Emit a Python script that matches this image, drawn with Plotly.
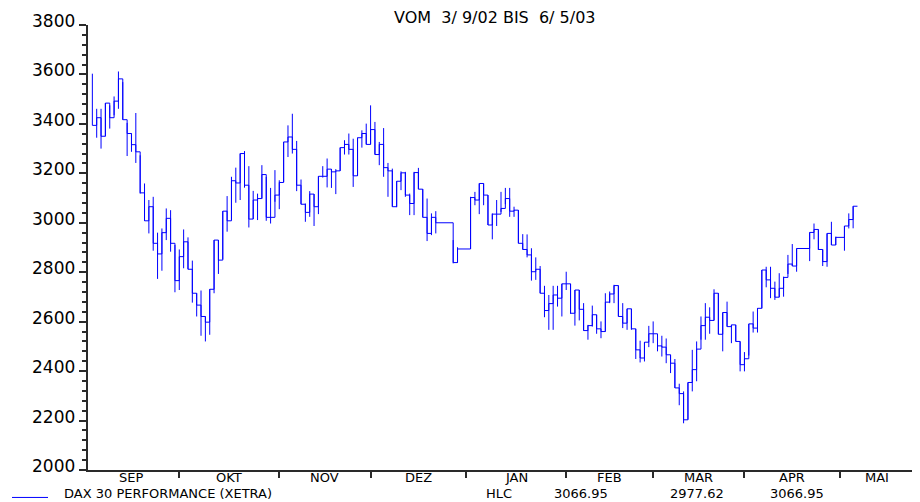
import numpy as np
import pandas as pd
import plotly.graph_objects as go

# ---------------- data (DAX 30 daily High / Low / Close, 3 Sep 2002 - 6 May 2003) ----------------
start_day = "2002-09-03"
end_day = "2003-05-06"
holidays = ["2002-12-24", "2002-12-25", "2002-12-26", "2002-12-31", "2003-01-01",
            "2003-04-18", "2003-04-21", "2003-05-01"]

highs = [3603, 3461, 3461, 3484, 3475, 3511, 3612, 3569, 3404, 3361,
         3444, 3273, 3159, 3092, 3105, 2960, 2977, 3058, 3051, 2910,
         2892, 2973, 2941, 2847, 2715, 2726, 2621, 2731, 2930, 2930,
         3047, 3108, 3186, 3223, 3280, 3290, 3229, 3129, 3118, 3233,
         3186, 3141, 3213, 3172, 3327, 3394, 3441, 3331, 3175, 3078,
         3128, 3116, 3188, 3229, 3260, 3217, 3217, 3304, 3334, 3361,
         3340, 3344, 3374, 3401, 3475, 3408, 3327, 3383, 3242, 3219,
         3168, 3208, 3206, 3118, 3206, 3222, 3136, 3098, 3038, 3047,
         2930, 2901,
         3105, 3125, 3159, 3159, 3112, 3038, 3092, 3125, 3141, 3141,
         3065, 3051, 2954, 2953, 2897, 2860, 2825, 2745, 2708, 2745,
         2745, 2753, 2802, 2753, 2728, 2728, 2675, 2587, 2665, 2628,
         2601, 2715, 2722, 2749, 2746, 2675, 2652, 2652, 2571, 2523,
         2517, 2583, 2601, 2543, 2543, 2532, 2466, 2449, 2349, 2318,
         2354, 2486, 2520, 2621, 2675, 2658, 2731, 2715, 2637, 2681,
         2587, 2587, 2520, 2477, 2591, 2641, 2654, 2809, 2822, 2822,
         2762, 2796, 2782, 2870, 2914, 2896,
         2961, 2997, 2973, 2892, 2957, 3004, 2944,
         2987, 3038, 3066.95]

lows = [3394, 3344, 3300, 3350, 3381, 3435, 3461, 3417, 3270, 3287,
        3242, 3118, 3008, 2957, 2887, 2773, 2806, 2930, 2883, 2719,
        2728, 2816, 2812, 2677, 2621, 2543, 2520, 2547, 2715, 2793,
        2852, 2964, 3011, 3081, 3092, 3142, 2981, 3015, 3011, 3098,
        3008, 2997, 3085, 3055, 3165, 3266, 3280, 3128, 3075, 3004,
        3024, 2987, 3035, 3183, 3143, 3141, 3116, 3210, 3276, 3276,
        3145, 3190, 3304, 3317, 3317, 3276, 3233, 3186, 3105, 3065,
        3063, 3132, 3105, 3031, 3031, 3136, 3022, 2926, 2950, 2957,
        2836, 2839,
        2894, 3071, 3035, 3071, 2991, 2933, 2987, 3044, 3075, 3024,
        3024, 2917, 2892, 2860, 2766, 2769, 2715, 2618, 2567, 2567,
        2661, 2621, 2728, 2632, 2584, 2605, 2564, 2527, 2580, 2551,
        2533, 2560, 2675, 2675, 2621, 2574, 2567, 2567, 2449, 2435,
        2439, 2497, 2513, 2480, 2459, 2432, 2392, 2332, 2262, 2189,
        2204, 2318, 2359, 2527, 2527, 2551, 2605, 2549, 2480, 2580,
        2513, 2520, 2399, 2399, 2463, 2556, 2556, 2654, 2739, 2695,
        2688, 2699, 2701, 2793, 2825, 2802,
        2845, 2933, 2890, 2825, 2822, 2910, 2910,
        2887, 2977, 2977.62]

closes = [3394, 3425, 3350, 3484, 3425, 3492, 3582, 3417, 3361, 3316,
          3287, 3121, 3008, 3065, 2917, 2874, 2960, 3018, 2917, 2766,
          2863, 2923, 2812, 2715, 2667, 2621, 2598, 2731, 2930, 2849,
          3047, 3008, 3170, 3161, 3280, 3152, 3015, 3092, 3098, 3195,
          3022, 3022, 3112, 3163, 3327, 3347, 3297, 3152, 3075, 3042,
          3116, 3065, 3188, 3188, 3217, 3206, 3210, 3304, 3317, 3297,
          3190, 3344, 3361, 3317, 3377, 3276, 3317, 3223, 3210, 3065,
          3168, 3202, 3112, 3078, 3203, 3136, 3022, 2957, 3022, 3000,
          2839, 2894,
          3102, 3092, 3159, 3112, 2991, 3035, 3035, 3058, 3098, 3047,
          3051, 2917, 2892, 2870, 2802, 2812, 2715, 2645, 2673, 2708,
          2695, 2753, 2753, 2634, 2728, 2650, 2564, 2584, 2628, 2571,
          2560, 2679, 2712, 2746, 2621, 2594, 2652, 2571, 2486, 2453,
          2517, 2551, 2551, 2502, 2497, 2466, 2432, 2332, 2309, 2203,
          2354, 2406, 2489, 2584, 2618, 2605, 2715, 2549, 2637, 2580,
          2587, 2520, 2426, 2450, 2591, 2574, 2654, 2809, 2769, 2735,
          2699, 2735, 2779, 2833, 2825, 2896,
          2961, 2973, 2892, 2843, 2957, 2910, 2941,
          2987, 3013, 3066.95]

y_ticks = [2000, 2200, 2400, 2600, 2800, 3000, 3200, 3400, 3600, 3800]
month_names = ["SEP", "OKT", "NOV", "DEZ", "JAN", "FEB", "MAR", "APR", "MAI"]
month_starts = ["2002-09-01", "2002-10-01", "2002-11-01", "2002-12-01", "2003-01-01",
                "2003-02-01", "2003-03-01", "2003-04-01", "2003-05-01"]
axis_origin = "2002-09-02"
axis_end = "2003-05-26"

title_text = "VOM  3/ 9/02 BIS  6/ 5/03"
legend_name = "DAX 30 PERFORMANCE (XETRA)"
legend_kind = "HLC"
legend_values = ["3066.95", "2977.62", "3066.95"]

# ---------------- build positions (weekday index scale) ----------------
hol = pd.to_datetime(holidays)
dates = [d for d in pd.bdate_range(start_day, end_day) if d not in hol]
assert len(dates) == len(highs) == len(lows) == len(closes)


def wd(d):
    return int(np.busday_count(np.datetime64(axis_origin), np.datetime64(pd.Timestamp(d).date())))


xs = [wd(d) for d in dates]
x_end = wd(axis_end)
bounds = [wd(m) for m in month_starts]
mids = [(a + b) / 2 for a, b in zip(bounds, bounds[1:] + [x_end])]

# HL bars
bx, by = [], []
for x, h, l in zip(xs, highs, lows):
    bx += [x, x, None]
    by += [l, h, None]
# close step line
sx = xs + [xs[-1] + 1]
sy = closes + [closes[-1]]

BLUE = "#0000ff"
FONT = "DejaVu Sans, Liberation Sans, Arial, sans-serif"
AX = "#2a2a2a"

fig = go.Figure()
fig.add_trace(go.Scatter(x=bx, y=by, mode="lines", line=dict(color=BLUE, width=1),
                         hoverinfo="skip", showlegend=False))
fig.add_trace(go.Scatter(x=sx, y=sy, mode="lines", line=dict(color=BLUE, width=1, shape="hv"),
                         hoverinfo="skip", showlegend=False))

# page geometry (the page body has the browser's default 8px margin)
OFF = 8
PAGE_W, PAGE_H = 920, 502
W, H = PAGE_W - OFF, PAGE_H - OFF
plot_left, plot_right, plot_top, plot_bottom = 88, 914, 24.5, 470.5
L = plot_left - OFF
T = plot_top - OFF
R = (OFF + W) - plot_right
B = (OFF + H) - plot_bottom
pw, ph = plot_right - plot_left, plot_bottom - plot_top


def px(xp):
    return (xp - plot_left) / pw


def py(yp):
    return (plot_bottom - yp) / ph


fig.update_layout(
    width=W, height=H,
    margin=dict(l=L, r=R, t=T, b=B, autoexpand=False),
    paper_bgcolor="white", plot_bgcolor="white",
    showlegend=False,
    font=dict(family=FONT, size=15, color="black"),
    xaxis=dict(range=[0, x_end], showgrid=False, zeroline=False,
               showline=True, linecolor=AX, linewidth=2,
               tickmode="array", tickvals=bounds, ticks="outside", ticklen=6,
               tickwidth=1.5, tickcolor=AX, showticklabels=False),
    yaxis=dict(range=[2000, 3800], showgrid=False, zeroline=False,
               showline=True, linecolor=AX, linewidth=2,
               tickmode="array", tickvals=y_ticks, ticks="outside", ticklen=7,
               tickwidth=1.5, tickcolor=AX, showticklabels=False,
               minor=dict(dtick=40, ticks="outside", ticklen=4, tickwidth=1.5, tickcolor=AX)),
)

# y tick labels (sit slightly above their tick, as in the reference)
for v in y_ticks:
    fig.add_annotation(xref="paper", yref="y", x=px(77), y=v, yshift=4, text=str(v),
                       showarrow=False, xanchor="right", yanchor="middle",
                       font=dict(family=FONT, size=17, color="black"))

fs = 13
for m, name in zip(mids, month_names):
    fig.add_annotation(xref="x", yref="paper", x=m, y=py(478.5), text=name, showarrow=False,
                       xanchor="center", yanchor="middle",
                       font=dict(family=FONT, size=fs, color="black"))

fig.add_annotation(xref="paper", yref="paper", x=px(495), y=py(17), text=title_text,
                   showarrow=False, xanchor="center", yanchor="middle",
                   font=dict(family=FONT, size=16, color="black"))

leg = [(62, legend_name), (484, legend_kind)] + list(zip([552, 668, 768], legend_values))
for xv, t in leg:
    fig.add_annotation(xref="paper", yref="paper", x=px(xv), y=py(494), text=t,
                       showarrow=False, xanchor="left", yanchor="middle",
                       font=dict(family=FONT, size=fs, color="black"))

fig.add_shape(type="line", xref="paper", yref="paper", x0=px(12), x1=px(48), y0=py(498), y1=py(498),
              line=dict(color=BLUE, width=1))

fig.write_html("out.html")
